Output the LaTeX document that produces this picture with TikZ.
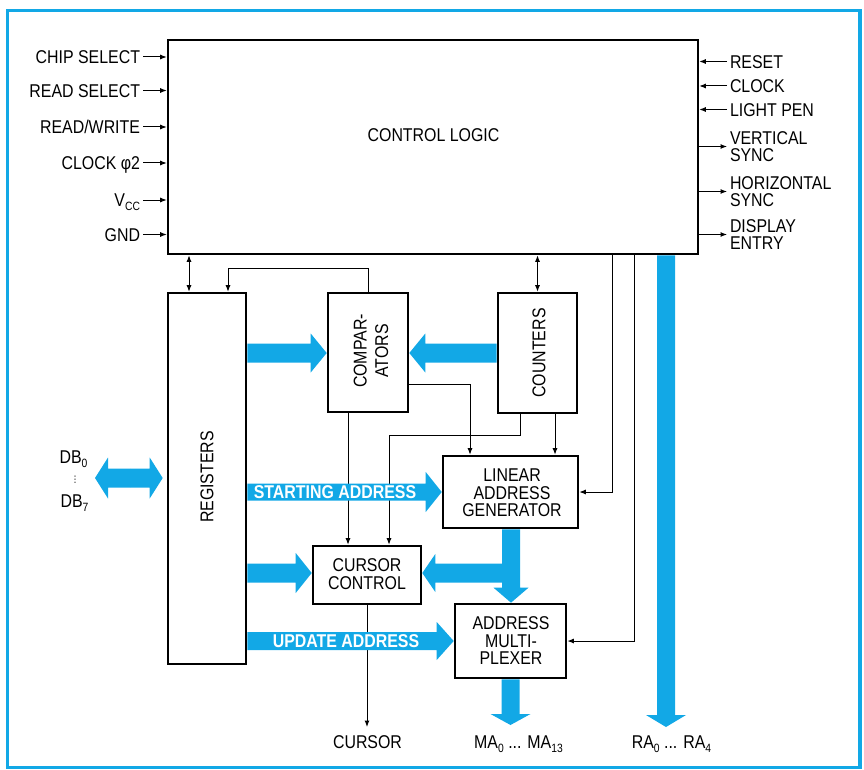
\documentclass[tikz,border=0pt]{standalone}
\usepackage{fontspec}
\setmainfont{Liberation Sans}[FakeStretch=0.86]
\newfontfamily\dejavu{DejaVu Sans}
\usetikzlibrary{calc,arrows.meta}
\definecolor{busc}{HTML}{12A8E6}
\newcommand\lowsub[1]{\raisebox{-3.5pt}{\fontsize{12}{12}\selectfont #1}}
\newcommand\lbl{\fontsize{18.5}{17.5}\selectfont}
% bus arrow: #1 from, #2 to, #3 half bar, #4 half head, #5 head length
\newcommand\busarrow[5]{%
  \coordinate (bh) at ($(#2)!#5pt!(#1)$);
  \fill[busc] ($(#1)!#3pt!90:(#2)$) -- ($(bh)!#3pt!90:(#2)$) -- ($(bh)!#4pt!90:(#2)$)
    -- (#2) -- ($(bh)!#4pt!-90:(#2)$) -- ($(bh)!#3pt!-90:(#2)$) -- ($(#1)!#3pt!-90:(#2)$) -- cycle;}
\begin{document}
\begin{tikzpicture}[x=1pt,y=-1pt,
  >={Latex[length=6.5pt,width=5pt]},
  box/.style={draw, line width=2.6pt, inner sep=0pt, fill=white},
  boxtext/.style={font=\lbl, align=center, inner sep=0pt},
  sig/.style={font=\lbl, inner sep=0pt, outer sep=3pt, text height=13.4pt, text depth=0pt},
  sig2/.style={font=\lbl, inner sep=0pt, outer sep=3pt, align=left},
  ln/.style={line width=1pt},
  buslabel/.style={font=\lbl\bfseries, text=white, inner sep=0pt, text height=13.4pt, text depth=0pt}]
\useasboundingbox (0,0) rectangle (864,770);
\draw[busc, line width=3.5pt] (7.5,10.5) rectangle (860,767.5);

% boxes
\node[box, minimum width=530pt, minimum height=214pt] (cl) at (433,147) {};
\node[sig] (cltext) at (433.5,135) {CONTROL LOGIC};
\node[box, minimum width=78pt, minimum height=371pt] (reg) at (207,478.5) {};
\node[boxtext, rotate=90] (regtext) at (207,477) {REGISTERS};
\node[box, minimum width=80pt, minimum height=119pt] (comp) at (368,352.5) {};
\node[boxtext, rotate=90, font=\fontsize{18.5}{21.5}\selectfont] (comptext) at (371,351) {COMPAR-\\ATORS};
\node[box, minimum width=79pt, minimum height=120pt] (cnt) at (537.5,353) {};
\node[boxtext, rotate=90] (cnttext) at (539,353) {COUNTERS};
\node[box, minimum width=135pt, minimum height=72pt] (lag) at (510.5,492) {};
\node[boxtext] (lagtext) at (512,493) {LINEAR\\ADDRESS\\GENERATOR};
\node[box, minimum width=108pt, minimum height=58pt] (cc) at (367,575) {};
\node[boxtext] (cctext) at (367,574) {CURSOR\\CONTROL};
\node[box, minimum width=111pt, minimum height=74pt] (am) at (510.5,641) {};
\node[boxtext] (amtext) at (511,641) {ADDRESS\\MULTI-\\PLEXER};

% left signals
\node[sig, anchor=east] (cs) at (143,57) {CHIP SELECT};
\node[sig, anchor=east] (rs) at (143,90.5) {READ SELECT};
\node[sig, anchor=east] (rw) at (143,127) {READ/WRITE};
\node[sig, anchor=east] (clk2) at (143,163) {CLOCK φ2};
\node[sig, anchor=east] (vcc) at (143,200) {V\lowsub{CC}};
\node[sig, anchor=east] (gnd) at (143,234.5) {GND};
\foreach \s in {cs,rs,rw,clk2,vcc,gnd}
  \draw[ln,->] (\s.east) -- (\s.east -| cl.west);

% right signals
\node[sig, anchor=west] (reset) at (727,61.5) {RESET};
\node[sig, anchor=west] (clk) at (727,86) {CLOCK};
\node[sig, anchor=west] (lp) at (727,109.5) {LIGHT PEN};
\foreach \s in {reset,clk,lp}
  \draw[ln,->] (\s.west) -- (\s.west -| cl.east);
\node[sig2, anchor=west] (vs) at (727,146.5) {VERTICAL\\SYNC};
\node[sig2, anchor=west] (hs) at (727,191.5) {HORIZONTAL\\SYNC};
\node[sig2, anchor=west] (de) at (727,234.5) {DISPLAY\\ENTRY};
\foreach \s in {vs,hs,de}
  \draw[ln,->] (\s.west -| cl.east) -- (\s.west);

% data bus labels
\node[sig] (db0) at (73.5,457) {DB\lowsub{0}};
\node[font=\dejavu\fontsize{9}{9}\selectfont, inner sep=0pt] (dbdots) at (75,479.5) {⋮};
\node[sig] (db7) at (74.5,501) {DB\lowsub{7}};

% bottom labels
\node[sig] (cursor) at (367.5,742) {CURSOR};
\node[sig] (ma) at (518.5,742) {MA\lowsub{0} ... MA\lowsub{13}};
\node[sig] (ra) at (671.5,742) {RA\lowsub{0} ... RA\lowsub{4}};
\coordinate (curend) at (367,727);

% thin connectors
\draw[ln,<->] (cl.south -| 189,0) -- (reg.north -| 189,0);
\draw[ln,->] (comp.north) -- ++(0,-23) -| (reg.north -| 228,0);
\draw[ln,<->] (cl.south -| cnt.north) -- (cnt.north);
\draw[ln,->] (comp.east |- 0,384) -| (lag.north -| 470,0);
\draw[ln,->] (cnt.south -| 555,0) -- (lag.north -| 555,0);
\draw[ln,->] (cnt.south -| 520,0) -- (520,435) -| (cc.north -| 389,0);
\draw[ln,->] (comp.south -| 348,0) -- (cc.north -| 348,0);
\draw[ln,->] (cl.south -| 612,0) |- (lag.east);
\draw[ln,->] (cl.south -| 634,0) |- (am.east);
\draw[ln,->] (cc.south) -- (curend);

% buses
\coordinate (b1s) at (reg.east |- 0,353);
\coordinate (b1e) at (comp.west |- 0,353);
\busarrow{b1s}{b1e}{9.5}{19.5}{16}
\coordinate (b2s) at (cnt.west |- 0,353);
\coordinate (b2e) at (comp.east |- 0,353);
\busarrow{b2s}{b2e}{9.5}{19.5}{16}
\coordinate (dbm) at (130,478);
\coordinate (dbl) at (95,478);
\coordinate (dbr) at ([xshift=-4pt]reg.west |- 0,478);
\busarrow{dbm}{dbl}{9.5}{20.5}{13}
\busarrow{dbm}{dbr}{9.5}{20.5}{13}
\coordinate (sas) at (reg.east |- lag.west);
\busarrow{sas}{lag.west}{8.5}{20}{16}
\coordinate (ccs) at (reg.east |- 0,573);
\coordinate (cce) at (cc.west |- 0,573);
\busarrow{ccs}{cce}{9.5}{20}{16}
\coordinate (uas) at (reg.east |- am.west);
\busarrow{uas}{am.west}{9}{19}{17}
\coordinate (lams) at (lag.south -| 511,0);
\coordinate (lame) at (am.north -| 511,0);
\busarrow{lams}{lame}{9}{17.5}{15}
\coordinate (brs) at (511,573);
\coordinate (bre) at (cc.east |- 0,573);
\busarrow{brs}{bre}{9.5}{19}{13}
\coordinate (mae) at (am.south |- 0,725);
\busarrow{am.south}{mae}{9}{20}{11}
\coordinate (ras) at (cl.south -| 666,0);
\coordinate (rae) at (666,727);
\busarrow{ras}{rae}{9}{20}{12}

\node[buslabel] (salbl) at (335,492) {STARTING ADDRESS};
\node[buslabel] (ualbl) at (346,641) {UPDATE ADDRESS};
\end{tikzpicture}
\end{document}
